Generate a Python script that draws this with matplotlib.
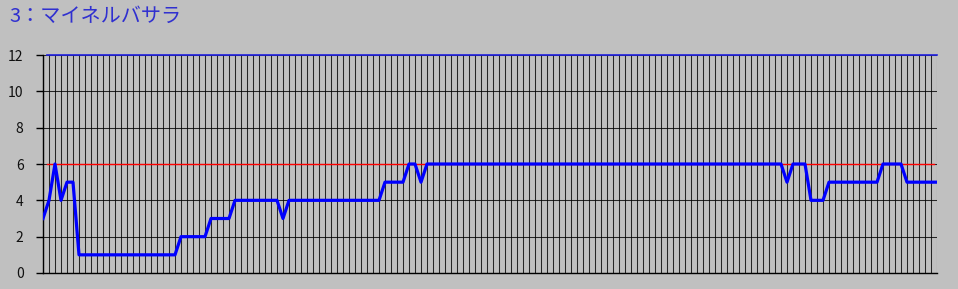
import matplotlib
matplotlib.use("Agg")
import matplotlib.pyplot as plt

# race-by-race values (one point per vertical grid line)
title = "3：マイネルバサラ"
values = [
    3, 4, 6, 4, 5, 5, 1, 1, 1, 1, 1, 1, 1, 1, 1, 1,
    1, 1, 1, 1, 1, 1, 1, 2, 2, 2, 2, 2, 3, 3, 3, 3,
    4, 4, 4, 4, 4, 4, 4, 4, 3, 4, 4, 4, 4, 4, 4, 4,
    4, 4, 4, 4, 4, 4, 4, 4, 4, 5, 5, 5, 5, 6, 6, 5,
    6, 6, 6, 6, 6, 6, 6, 6, 6, 6, 6, 6, 6, 6, 6, 6,
    6, 6, 6, 6, 6, 6, 6, 6, 6, 6, 6, 6, 6, 6, 6, 6,
    6, 6, 6, 6, 6, 6, 6, 6, 6, 6, 6, 6, 6, 6, 6, 6,
    6, 6, 6, 6, 6, 6, 6, 6, 6, 6, 6, 6, 5, 6, 6, 6,
    4, 4, 4, 5, 5, 5, 5, 5, 5, 5, 5, 5, 6, 6, 6, 6,
    5, 5, 5, 5, 5, 5,
]
limit_level = 6
top_level = 12
y_ticks = [0, 2, 4, 6, 8, 10, 12]

bg = "#c0c0c0"
plt.rcParams["font.family"] = ["Noto Sans CJK JP", "DejaVu Sans"]

fig = plt.figure(figsize=(9.58, 2.89), dpi=100, facecolor=bg)
ax = fig.add_axes([43 / 958, 1 - 273 / 289, 894 / 958, 218 / 289])
ax.set_facecolor(bg)

x = list(range(len(values)))
ax.set_xlim(0, len(values) - 1)
ax.set_ylim(0, top_level)

ax.set_xticks(x)
ax.set_xticklabels([])
ax.tick_params(axis="x", length=0)
ax.set_yticks(y_ticks)
ax.tick_params(axis="y", length=5, width=1, color="black", labelsize=10,
               labelcolor="#101010", pad=9)
ax.grid(True, color="black", linewidth=0.75, alpha=0.8)
ax.set_axisbelow(True)

for s in ["top", "right"]:
    ax.spines[s].set_visible(False)
ax.spines["left"].set_linewidth(1)
ax.spines["bottom"].set_linewidth(1)

ax.axhline(limit_level, xmin=0.005, xmax=0.997, color="#ff0000", linewidth=1, zorder=3)
ax.axhline(top_level, xmin=0.005, xmax=1, color="#2020e0", linewidth=1.2, zorder=3, clip_on=False)
ax.plot(x, values, color="#0000ff", linewidth=2.3, zorder=4)

fig.text(9 / 958, 1 - 16 / 289, title, color="#3030d0", fontsize=14.5,
         va="center", ha="left")

fig.savefig("out.png", dpi=100, facecolor=bg)
